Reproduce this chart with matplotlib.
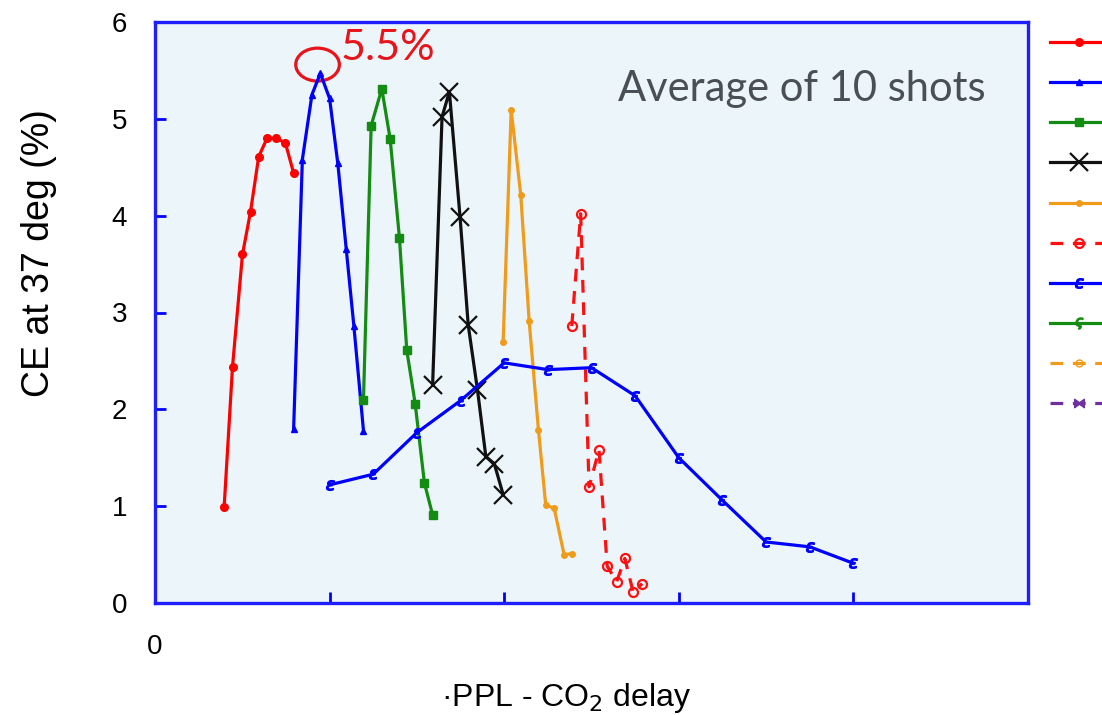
"""
CE at 37 deg vs PPL - CO2 delay, several delay scans.
"""
import matplotlib
matplotlib.use('Agg')
import matplotlib.pyplot as plt
from matplotlib.patches import Ellipse

# Data
x_red = [0.396, 0.444, 0.501, 0.547, 0.594, 0.642, 0.695, 0.747, 0.794]
y_red = [0.99, 2.44, 3.60, 4.04, 4.61, 4.80, 4.80, 4.75, 4.44]

x_blue = [0.794, 0.844, 0.899, 0.947, 1.0, 1.047, 1.095, 1.139, 1.194]
y_blue = [1.80, 4.58, 5.25, 5.47, 5.21, 4.54, 3.66, 2.86, 1.78]

x_green = [1.194, 1.238, 1.299, 1.347, 1.40, 1.442, 1.490, 1.543, 1.590]
y_green = [2.10, 4.93, 5.31, 4.79, 3.77, 2.61, 2.06, 1.24, 0.91]

x_black = [1.59, 1.644, 1.686, 1.747, 1.794, 1.847, 1.895, 1.943, 1.994]
y_black = [2.25, 5.02, 5.28, 3.99, 2.87, 2.20, 1.51, 1.44, 1.12]

x_orange = [1.994, 2.04, 2.095, 2.143, 2.196, 2.238, 2.286, 2.343, 2.39]
y_orange = [2.70, 5.09, 4.21, 2.91, 1.79, 1.01, 0.98, 0.50, 0.51]

x_red_dash = [2.387, 2.438, 2.486, 2.543, 2.59, 2.644, 2.691, 2.739, 2.79]
y_red_dash = [2.86, 4.02, 1.20, 1.58, 0.38, 0.22, 0.46, 0.11, 0.20]

x_blue_wide = [1.0, 1.25, 1.5, 1.75, 2.0, 2.25, 2.5, 2.75, 3.0, 3.25, 3.5, 3.75, 4.0]
y_blue_wide = [1.22, 1.33, 1.76, 2.09, 2.48, 2.41, 2.43, 2.14, 1.50, 1.06, 0.63, 0.58, 0.41]

# series that only show up in the legend
x_green2, y_green2 = [], []
x_orange2, y_orange2 = [], []
x_purple, y_purple = [], []

peak_x, peak_y = 0.931, 5.56

plt.rcParams['font.family'] = ['Liberation Sans', 'DejaVu Sans']

fig = plt.figure(figsize=(11.02, 7.15), dpi=100)
ax = fig.add_axes([155 / 1102, 112 / 715, 873 / 1102, 581 / 715])
ax.set_facecolor('#EBF5FA')

lw = 2.3
ax.plot(x_red, y_red, '-o', color='#FF0000', lw=lw, ms=5.5)
ax.plot(x_blue, y_blue, '-^', color='#0000FF', lw=lw, ms=4.5)
ax.plot(x_green, y_green, '-s', color='#148C14', lw=lw, ms=5.5)
ax.plot(x_black, y_black, '-x', color='#111111', lw=lw, ms=13, mew=1.6)
ax.plot(x_orange, y_orange, '-o', color='#F09B1A', lw=lw, ms=4)
ax.plot(x_red_dash, y_red_dash, '--o', color='#FF1010', lw=lw, ms=6.5, mfc='none', mew=1.6,
        dashes=(4, 3))
ax.plot(x_blue_wide, y_blue_wide, '-', marker=r'$\varepsilon$', color='#0000FF', lw=lw, ms=7)
ax.plot(x_green2, y_green2, '-', marker=r'$\varsigma$', color='#148C14', lw=lw, ms=8)
ax.plot(x_orange2, y_orange2, '--o', color='#F09B1A', lw=lw, ms=5, mfc='none', dashes=(4, 3))
ax.plot(x_purple, y_purple, '--', marker=r'$\bowtie$', color='#7030A0', lw=lw, ms=7,
        dashes=(4, 3))

# circle round the peak
ax.add_patch(Ellipse((peak_x, peak_y), 0.25, 0.34, fill=False, ec='#E8141C', lw=2.3))
ax.text(1.06, 5.61, '5.5%', color='#E8141C', fontsize=31, family=['Lato', 'DejaVu Sans'],
        va='baseline', ha='left')
ax.text(2.652, 5.18, 'Average of 10 shots', color='#4A4F57', fontsize=30,
        family=['Lato', 'DejaVu Sans'], va='baseline', ha='left')

ax.set_xlim(0, 5)
ax.set_ylim(0, 6)
ax.set_xticks([0, 1, 2, 3, 4], ['0', '', '', '', ''])
ax.set_yticks([0, 1, 2, 3, 4, 5, 6])
ax.tick_params(axis='x', direction='in', length=8, width=2, color='#0000FF', pad=22,
               labelsize=20)
ax.tick_params(axis='y', direction='in', length=8, width=2, color='#0000FF', pad=20,
               labelsize=20)
for s in ax.spines.values():
    s.set_color('#1E1EFF')
    s.set_linewidth(2.4)

ax.set_xlabel('\u00b7PPL - CO$_2$ delay', fontsize=23)
ax.xaxis.set_label_coords(0.471, -0.135)
ax.set_ylabel('CE at 37 deg (%)', fontsize=27)
ax.yaxis.set_label_coords(-0.112, 0.602)

ax.legend(['', '', '', '', '', '', '', '', '', ''],
          loc='upper left', bbox_to_anchor=(1050 / 1102, 1 - 36 / 715),
          bbox_transform=fig.transFigure, frameon=False, fontsize=10,
          handlelength=4.2, handletextpad=0.5, labelspacing=1.88,
          borderaxespad=0, borderpad=0)

fig.savefig('out.png', dpi=100)
